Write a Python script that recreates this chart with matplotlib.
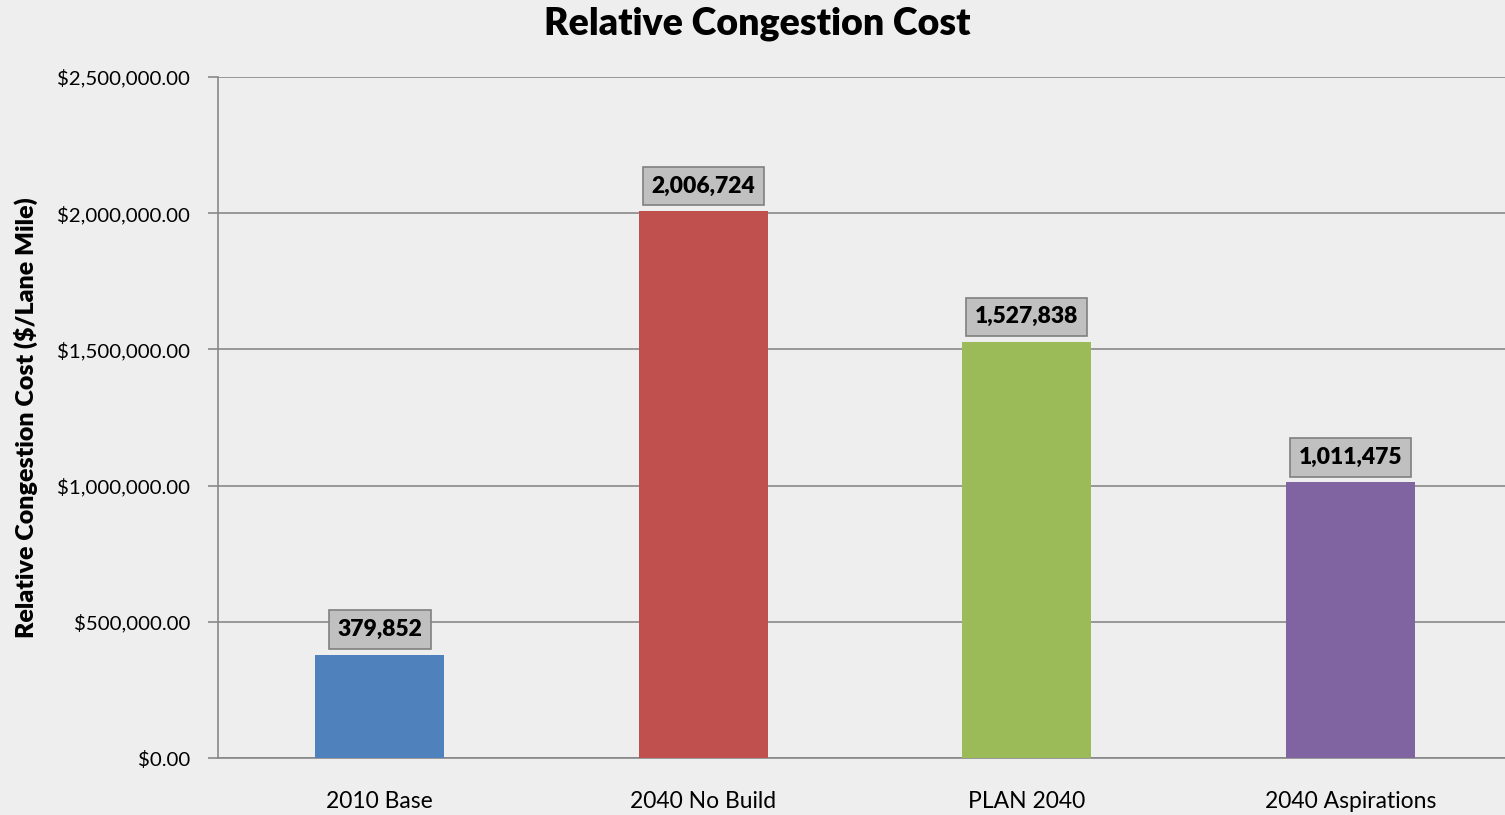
import matplotlib
matplotlib.use("Agg")
import matplotlib.pyplot as plt
from matplotlib.ticker import FuncFormatter

plt.rcParams['font.family'] = ['Lato', 'DejaVu Sans']

categories = ["2010 Base", "2040 No Build", "PLAN 2040", "2040 Aspirations"]
values = [379852, 2006724, 1527838, 1011475]
colors = ["#4F81BD", "#C0504D", "#9BBB59", "#8064A2"]
yticks = [0, 500000, 1000000, 1500000, 2000000, 2500000]

bg = "#EEEEEE"
fig = plt.figure(figsize=(15.05, 8.15), dpi=100, facecolor=bg)
ax = fig.add_axes([218 / 1505, 1 - 758 / 815, (1512 - 218) / 1505, (758 - 77) / 815])
ax.set_facecolor(bg)

x = list(range(len(categories)))
ax.bar(x, values, width=0.40, color=colors, zorder=3)

ax.set_xlim(-0.5, len(categories) - 0.5)
ax.set_ylim(0, 2500000)
ax.set_yticks(yticks)
ax.yaxis.set_major_formatter(FuncFormatter(lambda v, p: f"${v:,.2f}"))
ax.set_xticks(x)
ax.set_xticklabels(categories, fontsize=16.5)
ax.tick_params(axis='x', length=0, pad=24)
ax.tick_params(axis='y', length=7, width=1.2, color="#888888", labelsize=14.7, pad=13)
ax.grid(axis='y', color="#888888", linewidth=1.2, zorder=0)

for s in ['top', 'right']:
    ax.spines[s].set_visible(False)
for s in ['left', 'bottom']:
    ax.spines[s].set_color("#888888")
    ax.spines[s].set_linewidth(1.2)

for xi, v in zip(x, values):
    ax.annotate(f"{v:,}", (xi, v), xytext=(0, 10.5), textcoords='offset points',
                ha='center', va='bottom', fontsize=16.5, fontweight='heavy', color='black',
                bbox=dict(boxstyle='square,pad=0.38', facecolor='#C0C0C0',
                          edgecolor='#808080', linewidth=1.2), zorder=5)

ax.set_ylabel("Relative Congestion Cost ($/Lane Mile)", fontsize=18, fontweight='heavy')
ax.yaxis.set_label_coords(-0.139, 0.5)

fig.text(757 / 1505, 1 - 24 / 815, "Relative Congestion Cost", ha='center', va='center',
         fontsize=27, fontweight='heavy')

fig.savefig("out.png", dpi=100, facecolor=bg)
